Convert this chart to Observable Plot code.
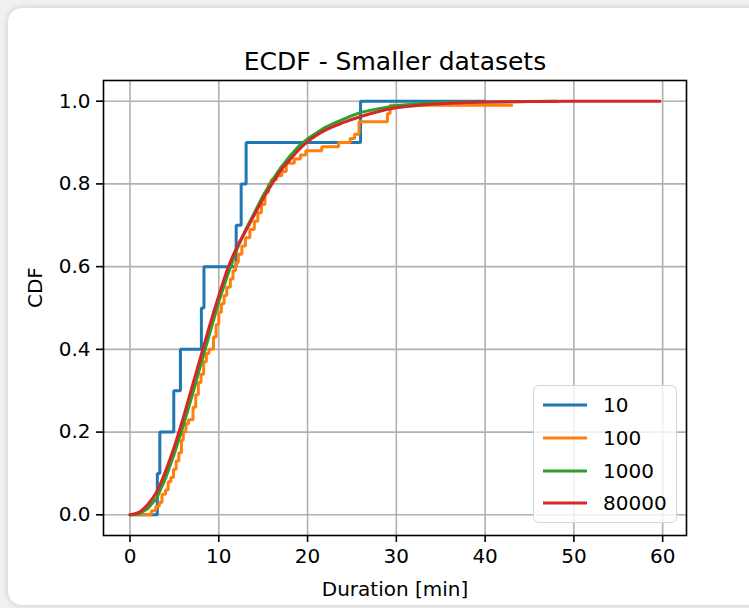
<!DOCTYPE html>
<html>
<head>
<meta charset="utf-8">
<script src="https://cdn.jsdelivr.net/npm/d3@7"></script>
<script src="https://cdn.jsdelivr.net/npm/@observablehq/plot@0.6"></script>
<style>
  html, body { margin: 0; padding: 0; width: 749px; height: 608px; overflow: hidden; background: #f1f1f1; }
  #card { position: absolute; left: 8px; top: 8px; width: 780px; height: 597px; background: #fff;
          border-radius: 14px; box-shadow: 0 0 7px rgba(0,0,0,0.16); }
  #chart { position: absolute; left: 0; top: 0; }
  #legend { position: absolute; left: 533px; top: 385px; width: 142px; height: 136px;
            border: 1.6px solid #d6d6d6; border-radius: 6px; background: rgba(255,255,255,0.8);
            font-family: "DejaVu Sans", sans-serif; font-size: 20px; color: #000; }
  .row { position: absolute; left: 0; height: 24px; display: flex; align-items: center; }
  .row svg { margin-left: 9px; margin-right: 16px; }
</style>
</head>
<body>
<div id="card"></div>
<div id="chart"></div>
<div id="legend"></div>
<script>
// ---- data ----
const seriesNames = ["10", "100", "1000", "80000"];
const seriesColors = ["#1f77b4", "#ff7f0e", "#2ca02c", "#d62728"];

// n = 10 (step ECDF)
const blueX = [0, 3.08, 3.36, 4.93, 5.68, 8.04, 8.33, 11.96, 12.52, 13.08, 25.97, 40];
const blueY = [0, 0.1, 0.2, 0.3, 0.4, 0.5, 0.6, 0.7, 0.8, 0.9, 1.0, 1.0];

// n = 100 (step ECDF)
const orangeX = [0, 2.4, 2.9, 3.3, 3.6, 4.0, 4.3, 4.6, 4.9, 5.2, 5.5, 5.8, 6.0, 6.3, 6.6, 7.1, 7.4, 7.7, 8.0, 8.3, 8.6, 8.9, 9.4, 9.7, 10.0, 10.3, 10.6, 10.9, 11.3, 11.6, 11.9, 12.2, 12.6, 13.0, 13.5, 14.0, 14.4, 14.8, 15.2, 15.6, 15.9, 16.5, 17.1, 17.6, 18.5, 19.2, 19.8, 21.6, 23.5, 24.8, 25.3, 25.8, 29.0, 29.3, 43.0];
const orangeY = [0, 0.01, 0.02, 0.03, 0.05, 0.06, 0.08, 0.09, 0.11, 0.13, 0.15, 0.18, 0.20, 0.22, 0.23, 0.26, 0.29, 0.32, 0.34, 0.37, 0.39, 0.40, 0.43, 0.46, 0.49, 0.51, 0.53, 0.55, 0.57, 0.59, 0.61, 0.63, 0.65, 0.67, 0.69, 0.71, 0.73, 0.75, 0.78, 0.80, 0.81, 0.82, 0.83, 0.85, 0.86, 0.87, 0.88, 0.89, 0.90, 0.91, 0.92, 0.95, 0.97, 0.99, 0.99];

// n = 1000
const greenX = [0, 1, 2, 3, 4, 5, 6, 7, 8, 9, 10, 11, 12, 13, 14, 15, 16, 17, 18, 19, 20, 21, 22, 23, 24, 25, 26, 28, 30, 33, 36, 40, 45, 48];
const greenY = [0, 0.002, 0.015, 0.04, 0.088, 0.148, 0.215, 0.288, 0.365, 0.44, 0.515, 0.58, 0.64, 0.688, 0.73, 0.772, 0.808, 0.84, 0.867, 0.891, 0.909, 0.923, 0.937, 0.947, 0.956, 0.965, 0.973, 0.982, 0.989, 0.995, 0.997, 0.998, 0.999, 1.0];

// n = 80000
const redX = [0, 1, 2, 3, 4, 5, 6, 7, 8, 9, 10, 11, 12, 13, 14, 15, 16, 17, 18, 19, 20, 22, 24, 26, 28, 30, 33, 36, 40, 45, 50, 59.7];
const redY = [0, 0.006, 0.025, 0.055, 0.105, 0.165, 0.235, 0.31, 0.385, 0.46, 0.53, 0.595, 0.645, 0.685, 0.725, 0.765, 0.80, 0.833, 0.858, 0.882, 0.902, 0.93, 0.948, 0.963, 0.975, 0.984, 0.991, 0.995, 0.998, 0.999, 1.0, 1.0];

const xTicks = [0, 10, 20, 30, 40, 50, 60];
const yTicks = [0, 0.2, 0.4, 0.6, 0.8, 1.0];
const titleText = "ECDF - Smaller datasets";
const xLabel = "Duration [min]";
const yLabel = "CDF";

// ---- build tables ----
const toRows = (xs, ys, s) => xs.map((x, i) => ({x, y: ys[i], s}));
const blueRows = toRows(blueX, blueY, "10");
const orangeRows = toRows(orangeX, orangeY, "100");
const greenRows = toRows(greenX, greenY, "1000");
const redRows = toRows(redX, redY, "80000");

const xmin = 0, xmax = 59.7;
const xpad = (xmax - xmin) * 0.05;
const FONT = "DejaVu Sans, sans-serif";

const plot = Plot.plot({
  width: 749,
  height: 608,
  marginLeft: 103,
  marginRight: 63,
  marginTop: 80,
  marginBottom: 73,
  style: {background: "transparent", fontFamily: FONT, fontSize: "20px", color: "#000", overflow: "visible"},
  x: {domain: [xmin - xpad, xmax + xpad], axis: null},
  y: {domain: [-0.05, 1.05], axis: null},
  color: {domain: seriesNames, range: seriesColors},
  marks: [
    Plot.gridX(xTicks, {stroke: "#b0b0b0", strokeOpacity: 1, strokeWidth: 1.6}),
    Plot.gridY(yTicks, {stroke: "#b0b0b0", strokeOpacity: 1, strokeWidth: 1.6}),
    Plot.line(blueRows, {x: "x", y: "y", stroke: "s", curve: "step-after", strokeWidth: 3, strokeLinejoin: "miter"}),
    Plot.line(orangeRows, {x: "x", y: "y", stroke: "s", curve: "step-after", strokeWidth: 3, strokeLinejoin: "miter"}),
    Plot.line(greenRows, {x: "x", y: "y", stroke: "s", curve: "linear", strokeWidth: 3}),
    Plot.line(redRows, {x: "x", y: "y", stroke: "s", curve: "monotone-x", strokeWidth: 3}),
    Plot.frame({stroke: "#000", strokeWidth: 1.6}),
    Plot.axisX(xTicks, {tickSize: 7, tickPadding: 6, strokeWidth: 1.6, fontSize: 20, label: null, tickFormat: d => String(d)}),
    Plot.axisY(yTicks, {tickSize: 7, tickPadding: 6, strokeWidth: 1.6, fontSize: 20, label: null, tickFormat: d3.format(".1f")}),
    Plot.text([titleText], {frameAnchor: "top", dy: -19, fontSize: 25, lineAnchor: "middle", fill: "#000"}),
    Plot.text([xLabel], {frameAnchor: "bottom", dy: 54, fontSize: 20, lineAnchor: "middle", fill: "#000"}),
    Plot.text([yLabel], {frameAnchor: "left", dx: -68, rotate: -90, fontSize: 20, lineAnchor: "middle", fill: "#000"})
  ]
});
document.getElementById("chart").appendChild(plot);

// ---- legend ----
const legend = document.getElementById("legend");
seriesNames.forEach((name, i) => {
  const row = document.createElement("div");
  row.className = "row";
  row.style.top = (7 + i * 32.8) + "px";
  row.innerHTML = `<svg width="44" height="6"><line x1="0" x2="44" y1="3" y2="3" stroke="${seriesColors[i]}" stroke-width="3"/></svg><span>${name}</span>`;
  legend.appendChild(row);
});
</script>
</body>
</html>
